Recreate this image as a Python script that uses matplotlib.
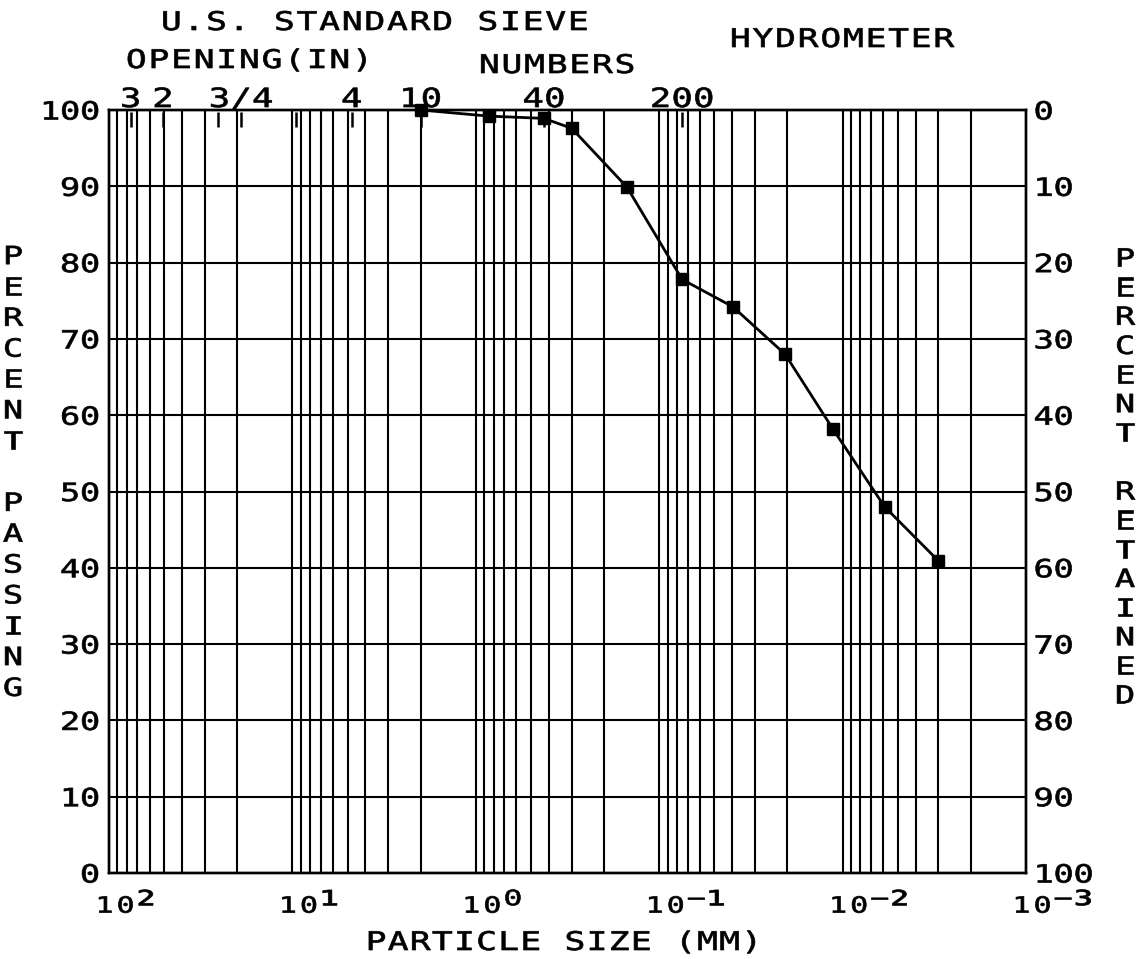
import numpy as np
import matplotlib
matplotlib.use("Agg")
import matplotlib.pyplot as plt
from matplotlib.path import Path
from matplotlib.patheffects import AbstractPathEffect
from matplotlib.ticker import LogLocator, NullFormatter
from matplotlib.transforms import offset_copy

# Grain size distribution: sieve analysis followed by hydrometer readings
particle_size_mm = [2.0, 0.85, 0.425, 0.30, 0.15, 0.075, 0.0396, 0.0206, 0.0113, 0.0059, 0.0030]
percent_passing = [100.0, 99.2, 98.9, 97.6, 89.9, 77.8, 74.2, 68.0, 58.2, 48.0, 40.9]

# U.S. standard sieve openings (mm) marked along the top edge
sieve_labels = ["3", "2", "3/4", "4", "10", "40", "200"]
sieve_label_mm = [76.2, 50.8, 19.05, 4.75, 2.0, 0.425, 0.075]
sieve_mark_mm = [76.2, 50.8, 25.4, 19.05, 9.525, 4.75, 2.0, 0.425, 0.075]

size_ticks_mm = [1e2, 1e1, 1e0, 1e-1, 1e-2, 1e-3]
size_tick_labels = ["10²", "10¹", "10⁰", "10⁻¹", "10⁻²", "10⁻³"]
passing_ticks = list(range(0, 101, 10))
retained_ticks = list(range(0, 101, 10))

plt.rcParams["font.family"] = ["DejaVu Sans Mono", "DejaVu Sans"]


class PlotterLettering(AbstractPathEffect):
    """Pen-plotter style lettering: wide glyphs set on an even, open pitch,
    filled and traced with a thin pen line.

    Glyphs from ``sup_from`` onwards are treated as an exponent: enlarged
    about their own baseline and packed on their own pitch.
    """

    ADV = 1233 / 2048 * 100.0  # DejaVu Sans Mono advance in text-path units

    def __init__(self, pitch=0.88, stretch=1.35, anchor=0.0, shift=0.0,
                 sup_from=None, sup_scale=1.0, sup_pitch=0.7, sup_lift=0.0,
                 pen_width=0.35):
        super().__init__()
        self.pitch = pitch * 100.0
        self.stretch = stretch
        self.anchor = anchor
        self.shift = shift * 100.0
        self.sup_from = sup_from
        self.sup_scale = sup_scale
        self.sup_pitch = sup_pitch * 100.0
        self.sup_lift = sup_lift * 100.0
        self.pen_width = pen_width

    def _draw(self, renderer, gc, path, affine, rgbFace):
        gc0 = renderer.new_gc()
        gc0.copy_properties(gc)
        gc0.set_linewidth(renderer.points_to_pixels(self.pen_width))
        gc0.set_joinstyle("round")
        if rgbFace is not None:
            gc0.set_foreground(rgbFace)
        renderer.draw_path(gc0, path, affine, rgbFace)
        gc0.restore()

    def draw_path(self, renderer, gc, tpath, affine, rgbFace=None):
        verts = np.array(tpath.vertices, dtype=float)
        codes = tpath.codes
        if codes is None or len(verts) == 0:
            return
        codes = np.asarray(codes)
        real = codes != Path.CLOSEPOLY
        starts = np.flatnonzero(codes == Path.MOVETO)
        if len(starts) == 0:
            return
        ends = np.append(starts[1:], len(verts))
        adv, p = self.ADV, self.pitch
        cell = np.zeros(len(verts), dtype=int)
        for a, b in zip(starts, ends):
            xs = verts[a:b, 0][real[a:b]]
            cx = 0.5 * (xs.min() + xs.max())
            cell[a:b] = int(np.floor(cx / adv))
        n = cell.max() + 1
        x, y = verts[:, 0], verts[:, 1]
        old_c = cell * adv + adv / 2
        new_x = cell * p + p / 2 + (x - old_c) * self.stretch
        new_y = y.copy()
        if self.sup_from is not None:
            sup = cell >= self.sup_from
            if sup.any():
                y0 = y[sup & real].min()
                x0 = self.sup_from * p
                k = cell[sup] - self.sup_from
                s = self.sup_scale
                new_x[sup] = (x0 + (k + 0.5) * self.sup_pitch
                              + (x[sup] - old_c[sup]) * self.stretch * s)
                new_y[sup] = y0 + (y[sup] - y0) * s + self.sup_lift
        new_x += -self.anchor * n * (p - adv) + self.shift
        self._draw(renderer, gc, Path(np.column_stack([new_x, new_y]), codes),
                   affine, rgbFace)


def pen(**kw):
    return [PlotterLettering(**kw)]


W, H = 1140, 959
fig = plt.figure(figsize=(W / 100, H / 100), dpi=100)
ax = fig.add_axes([109 / W, 1 - 873 / H, (1026 - 109) / W, (873 - 110) / H])

ax.set_xscale("log")
ax.set_xlim(1e2, 1e-3)
ax.set_ylim(0, 100)

# full log grid in x, 10 % grid in y
ax.xaxis.set_minor_locator(LogLocator(base=10, subs=np.arange(2, 10)))
ax.xaxis.set_minor_formatter(NullFormatter())
ax.grid(True, which="both", axis="x", color="black", lw=1.5)
ax.grid(True, which="major", axis="y", color="black", lw=1.5)
ax.set_axisbelow(True)
for s in ax.spines.values():
    s.set_linewidth(1.7)

ax.set_xticks(size_ticks_mm, labels=size_tick_labels, fontsize=16, ha="left",
              path_effects=pen(pitch=0.95, shift=-0.68, sup_from=2,
                               sup_scale=1.7, sup_pitch=0.9, sup_lift=0.0))
ax.set_yticks(passing_ticks, labels=[str(v) for v in passing_ticks], fontsize=18,
              path_effects=pen(pitch=0.8, anchor=1.0))
ax.tick_params(axis="x", which="both", length=0, pad=17)
ax.tick_params(axis="y", which="both", length=0, pad=6.5)

ax2 = ax.twinx()
ax2.set_ylim(100, 0)
ax2.set_yticks(retained_ticks, labels=[str(v) for v in retained_ticks], fontsize=18,
               path_effects=pen(pitch=0.8))
ax2.tick_params(axis="y", length=0, pad=5.5)
for s in ax2.spines.values():
    s.set_linewidth(1.7)

# gradation curve
ax.plot(particle_size_mm, percent_passing, color="black", lw=2.0,
        marker="s", ms=8.8, zorder=5, clip_on=False)

# sieve marks and labels along the top edge
ax.vlines(sieve_mark_mm, 97.8, 99.7, color="black", lw=1.8, zorder=4)
lab_tr = offset_copy(ax.transData, fig=fig, x=0, y=3, units="dots")
for mm, lab in zip(sieve_label_mm, sieve_labels):
    ax.text(mm, 100, lab, transform=lab_tr, ha="center", va="baseline",
            fontsize=19, clip_on=False, path_effects=pen(pitch=0.82, anchor=0.5))

# headings
fig.text(160 / W, 1 - 30 / H, "U.S. STANDARD SIEVE", ha="left", va="baseline",
         fontsize=18.5, path_effects=pen())
fig.text(125 / W, 1 - 68 / H, "OPENING(IN)", ha="left", va="baseline",
         fontsize=18.5, path_effects=pen())
fig.text(478 / W, 1 - 73 / H, "NUMBERS", ha="left", va="baseline",
         fontsize=18.5, path_effects=pen())
fig.text(729 / W, 1 - 47 / H, "HYDROMETER", ha="left", va="baseline",
         fontsize=18.5, path_effects=pen())
fig.text(365 / W, 1 - 950 / H, "PARTICLE SIZE (MM)", ha="left", va="baseline",
         fontsize=18.5, path_effects=pen(pitch=0.86))

# stacked axis titles
fig.text(13 / W, 1 - 473 / H, "\n".join("PERCENT") + "\n\n" + "\n".join("PASSING"),
         ha="center", va="center", multialignment="center", fontsize=18,
         linespacing=1.36, path_effects=pen(anchor=0.5))
fig.text(1125 / W, 1 - 478 / H, "\n".join("PERCENT") + "\n\n" + "\n".join("RETAINED"),
         ha="center", va="center", multialignment="center", fontsize=18,
         linespacing=1.27, path_effects=pen(anchor=0.5))

fig.savefig("out.png", dpi=100, facecolor="white")
